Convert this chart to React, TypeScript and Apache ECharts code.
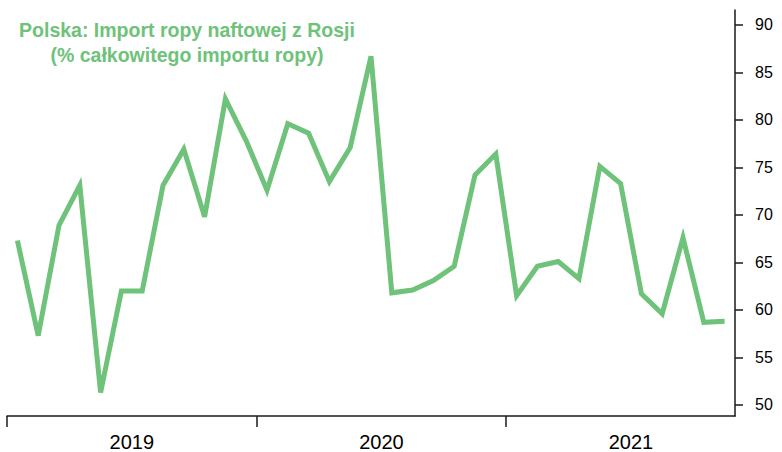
import React, { useEffect, useRef } from "react";
import * as echarts from "echarts";

const titleLines = ["Polska: Import ropy naftowej z Rosji", "(% całkowitego importu ropy)"];

const months = [
  "2019-01", "2019-02", "2019-03", "2019-04", "2019-05", "2019-06",
  "2019-07", "2019-08", "2019-09", "2019-10", "2019-11", "2019-12",
  "2020-01", "2020-02", "2020-03", "2020-04", "2020-05", "2020-06",
  "2020-07", "2020-08", "2020-09", "2020-10", "2020-11", "2020-12",
  "2021-01", "2021-02", "2021-03", "2021-04", "2021-05", "2021-06",
  "2021-07", "2021-08", "2021-09", "2021-10", "2021-11",
];

const importShare = [
  67.3, 57.3, 68.9, 73.1, 51.3, 62.0, 62.0, 73.1, 76.9, 69.8, 82.2, 77.8,
  72.6, 79.6, 78.6, 73.5, 77.1, 86.7, 61.8, 62.1, 63.1, 64.6, 74.2, 76.4,
  61.5, 64.6, 65.1, 63.3, 75.1, 73.3, 61.7, 59.6, 67.6, 58.7, 58.8,
];

const years = ["2019", "2020", "2021"];
// month offsets (from Jan 2019) of year boundaries and year mid-points
const yearStarts = [0, 12, 24];
const yearMids = [6, 18, 30];

const yTicks = [50, 55, 60, 65, 70, 75, 80, 85, 90];

const GREEN = "#6EC27A";
const FONT = '"Liberation Sans", Arial, sans-serif';
const AXIS = "#1a1a1a";

export default function App() {
  const ref = useRef<HTMLDivElement>(null);
  useEffect(() => {
    if (!ref.current) return;
    const chart = echarts.init(ref.current, null, { renderer: "svg" });
    chart.setOption({
      animation: false,
      backgroundColor: "#ffffff",
      grid: { left: 7, right: 47, top: 10, bottom: 36 },
      graphic: [
        {
          type: "text",
          x: 187,
          y: 17,
          style: {
            text: titleLines.join("\n"),
            fill: GREEN,
            font: `bold 19.5px ${FONT}`,
            textAlign: "center",
            textVerticalAlign: "top",
            lineHeight: 25.5,
          },
        },
      ],
      xAxis: [
        {
          type: "category",
          data: months,
          boundaryGap: true,
          axisLine: { onZero: false, lineStyle: { color: AXIS, width: 1.5 } },
          axisTick: { show: false },
          axisLabel: { show: false },
          splitLine: { show: false },
        },
        {
          type: "value",
          position: "bottom",
          min: 0,
          max: months.length,
          axisLine: { show: false, onZero: false },
          axisTick: {
            show: true,
            length: 11,
            customValues: yearStarts,
            lineStyle: { color: AXIS, width: 1.5 },
          },
          axisLabel: {
            customValues: yearMids,
            formatter: (v: number) => years[yearMids.indexOf(v)] ?? "",
            color: "#000",
            fontSize: 20,
            fontFamily: FONT,
            margin: 16,
          },
          splitLine: { show: false },
        },
      ],
      yAxis: {
        type: "value",
        position: "right",
        min: 48.84,
        max: 91.56,
        axisLine: { show: true, onZero: false, lineStyle: { color: AXIS, width: 1.5 } },
        axisTick: {
          show: true,
          length: 8,
          customValues: yTicks,
          lineStyle: { color: AXIS, width: 1.5 },
        },
        axisLabel: {
          customValues: yTicks,
          color: "#000",
          fontSize: 16,
          fontFamily: FONT,
          margin: 20,
        },
        splitLine: { show: false },
      },
      series: [
        {
          type: "line",
          xAxisIndex: 0,
          data: importShare,
          showSymbol: false,
          symbol: "none",
          lineStyle: { color: GREEN, width: 5, join: "miter", cap: "butt" },
        },
      ],
    });
    return () => chart.dispose();
  }, []);
  return (
    <div
      ref={ref}
      style={{ position: "fixed", left: 0, top: 0, width: 782, height: 452 }}
    />
  );
}
